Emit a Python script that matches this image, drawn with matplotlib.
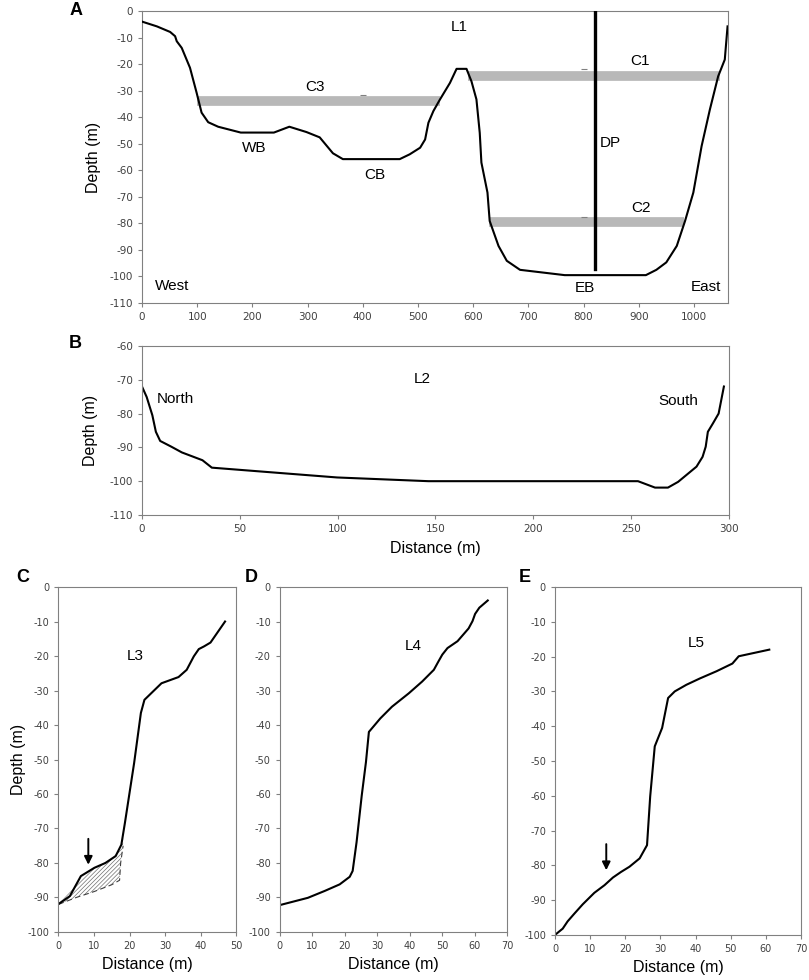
import matplotlib.pyplot as plt
import numpy as np


plt.rcParams.update({
    "font.family": ["Liberation Sans", "DejaVu Sans"],
    "font.size": 11,
    "axes.unicode_minus": False,
    "axes.edgecolor": "#808080",
    "axes.linewidth": 0.8,
    "axes.labelsize": 11.5,
    "xtick.color": "#808080",
    "ytick.color": "#808080",
    "xtick.labelcolor": "#404040",
    "ytick.labelcolor": "#404040",
    "xtick.major.size": 3,
    "ytick.major.size": 3,
    "hatch.linewidth": 0.5,
})

NARROW = ["Liberation Sans Narrow", "DejaVu Sans"]
WIDE = ["DejaVu Sans"]

# ---- L1 (panel A) ----
l1_x = [0, 27, 51, 60, 63, 72, 87, 99, 108, 120, 138, 179, 239, 267, 298, 322,
        346, 364, 467, 485, 504, 513, 519, 528, 540, 558, 570, 588, 597, 606,
        612, 615, 626, 630, 646, 661, 685, 766, 913, 932, 950, 969, 984, 999,
        1014, 1029, 1044, 1056, 1059, 1061]
l1_y = [-4, -5.8, -7.9, -9.5, -11.4, -13.9, -21.4, -30.8, -38.3, -41.9, -43.6,
        -45.8, -45.8, -43.6, -45.6, -47.6, -53.6, -55.8, -55.8, -54, -51.5,
        -48.4, -42.1, -37.7, -33.3, -27.1, -21.8, -21.8, -26.5, -33.3, -45.9,
        -57.1, -68.4, -79.1, -88.5, -94.1, -97.5, -99.5, -99.5, -97.5, -94.7,
        -88.5, -79.1, -68.4, -50.9, -37.1, -24.6, -18.3, -10.8, -5.8]

# current bands: name, x start, x end, depth, cap position
band_names = ["C1", "C2", "C3"]
band_x0 = [591, 629, 99]
band_x1 = [1047, 983, 540]
band_depth = [-24.5, -79.5, -34]
band_cap_x = [801, 801, 400]
band_cap_y = [-22, -77.7, -31.8]

dp_x = 820
dp_bottom = -97

# ---- L2 (panel B) ----
l2_x = [0, 2.4, 5.3, 7.1, 9.3, 15, 20.4, 30.9, 35.7, 73.2, 99.7, 146.4, 253.5,
        262.2, 268.8, 274, 283.4, 286.5, 288.1, 289.2, 291.8, 294.7, 297.4]
l2_y = [-72, -75.1, -80.5, -85.4, -88.1, -89.8, -91.5, -93.8, -96, -97.7,
        -98.9, -100, -100, -101.9, -101.9, -100.2, -95.7, -92.8, -89.8, -85.4,
        -82.9, -80, -72]

# ---- L3 (panel C) ----
l3_x = [0, 3.2, 6.3, 10.1, 13.2, 16.1, 17.7, 18.7, 21.3, 23.2, 24.2, 25.2, 29,
        33.8, 36.1, 38.1, 39.5, 41, 42.8, 46.9]
l3_y = [-91.9, -89.6, -83.8, -81.4, -80, -78, -74.7, -68.4, -51, -36.5, -32.7,
        -31.7, -27.9, -26.1, -24, -20.1, -18, -17.2, -16.1, -10]
slide_x = [0, 5, 10, 15, 17.2, 17.5, 18.2]
slide_y = [-92, -90, -88.3, -86.3, -85, -80, -75]

# ---- L4 (panel D) ----
l4_x = [0, 8.6, 13.8, 18.4, 21.5, 22.4, 23.6, 25.2, 26.5, 27.4, 28.3, 30.9,
        34.5, 39.7, 43.8, 47.4, 48.8, 50, 51.6, 54.7, 58.1, 59.3, 60.1, 61.4, 64]
l4_y = [-92.2, -90.1, -88.1, -86.2, -84, -82.3, -74, -60.4, -50.7, -42, -41,
        -38.1, -34.7, -30.8, -27.4, -24, -21.6, -19.6, -17.7, -15.7, -12, -9.9,
        -7.8, -6, -3.9]

# ---- L5 (panel E) ----
l5_x = [0, 2.2, 3.6, 5.5, 7.9, 11.2, 14.1, 16.5, 18.8, 21.2, 24.1, 26.2, 27.1,
        28.4, 30.5, 32.2, 34.1, 37.4, 41.2, 46, 50.5, 52.3, 61]
l5_y = [-100, -98.2, -96.1, -93.9, -91.2, -87.9, -85.7, -83.5, -81.9, -80.4,
        -78, -74.2, -60.2, -45.8, -40.5, -31.9, -30, -28.1, -26.3, -24.2, -22,
        -19.9, -18]


def style_axes(ax, family, size):
    for s in ax.spines.values():
        s.set_color("#808080")
    for lab in ax.get_xticklabels() + ax.get_yticklabels():
        lab.set_family(family)
        lab.set_fontsize(size)


def arrow(ax, x, y0, y1):
    ax.annotate("", xy=(x, y1), xytext=(x, y0),
                arrowprops=dict(arrowstyle="-|>", color="black", lw=1.4,
                                mutation_scale=12, shrinkA=0, shrinkB=0))


fig = plt.figure(figsize=(8.09, 9.8), dpi=100)

##############################################################
# PANEL A
##############################################################

axA = fig.add_axes([0.1755, 0.6908, 0.7245, 0.298])
axA.plot(l1_x, l1_y, color="black", lw=1.5, zorder=3)

for name, x0, x1, d, cx, cy in zip(band_names, band_x0, band_x1, band_depth,
                                   band_cap_x, band_cap_y):
    axA.plot([x0, x1], [d, d], color="#b8b8b8", lw=7, solid_capstyle="butt",
             zorder=2)
    axA.plot([cx], [cy], marker="_", color="#808080", ms=4, mew=0.8)

axA.plot([dp_x, dp_x], [0, dp_bottom], color="black", lw=2.4, zorder=4)

axA.text(574, -6.2, "L1", ha="center", va="center")
axA.text(903, -19, "C1", ha="center", va="center")
axA.text(313, -28.6, "C3", ha="center", va="center")
axA.text(905, -74.3, "C2", ha="center", va="center")
axA.text(829, -49.6, "DP", ha="left", va="center")
axA.text(203, -51.5, "WB", ha="center", va="center")
axA.text(421, -61.8, "CB", ha="center", va="center")
axA.text(802, -104.4, "EB", ha="center", va="center")
axA.text(54, -103.5, "West", ha="center", va="center")
axA.text(1022, -103.8, "East", ha="center", va="center")

axA.set_xlim(0, 1062)
axA.set_ylim(-110, 0)
axA.set_xticks(np.arange(0, 1001, 100))
axA.set_yticks(np.arange(-110, 1, 10))
axA.set_ylabel("Depth (m)", labelpad=6)
style_axes(axA, NARROW, 7.5)
fig.text(0.094, 0.989, "A", fontsize=13, fontweight="bold", ha="center",
         va="center")

##############################################################
# PANEL B
##############################################################

axB = fig.add_axes([0.1755, 0.4745, 0.7256, 0.1725])
axB.plot(l2_x, l2_y, color="black", lw=1.5)
axB.text(143, -69.8, "L2", ha="center", va="center")
axB.text(7.7, -75.7, "North", ha="left", va="center")
axB.text(274, -76.2, "South", ha="center", va="center")
axB.set_xlim(0, 300)
axB.set_ylim(-110, -60)
axB.set_xticks(np.arange(0, 301, 50))
axB.set_yticks(np.arange(-110, -59, 10))
axB.set_ylabel("Depth (m)", labelpad=8)
axB.set_xlabel("Distance (m)", labelpad=5)
style_axes(axB, NARROW, 7.5)
fig.text(0.093, 0.650, "B", fontsize=13, fontweight="bold", ha="center",
         va="center")

##############################################################
# PANEL C
##############################################################

axC = fig.add_axes([0.0723, 0.049, 0.2195, 0.352])
sx = np.array(slide_x)
top = np.interp(sx, l3_x, l3_y)
axC.fill_between(sx, slide_y, top, facecolor="none", edgecolor="#707070",
                 hatch="////////", lw=0)
axC.plot(slide_x, slide_y, color="#404040", lw=0.8, ls=(0, (5, 3)))
axC.plot(l3_x, l3_y, color="black", lw=1.5)
arrow(axC, 8.4, -73, -80.5)
axC.text(21.6, -20.1, "L3", ha="center", va="center")
axC.set_xlim(0, 50)
axC.set_ylim(-100, 0)
axC.set_xticks(np.arange(0, 51, 10))
axC.set_yticks(np.arange(-100, 1, 10))
axC.set_ylabel("Depth (m)", labelpad=1)
axC.set_xlabel("Distance (m)")
style_axes(axC, WIDE, 7)
fig.text(0.028, 0.411, "C", fontsize=13, fontweight="bold", ha="center",
         va="center")

##############################################################
# PANEL D
##############################################################

axD = fig.add_axes([0.346, 0.049, 0.281, 0.352])
axD.plot(l4_x, l4_y, color="black", lw=1.5)
axD.text(41.2, -17.2, "L4", ha="center", va="center")
axD.set_xlim(0, 70)
axD.set_ylim(-100, 0)
axD.set_xticks(np.arange(0, 71, 10))
axD.set_yticks(np.arange(-100, 1, 10))
axD.set_xlabel("Distance (m)")
style_axes(axD, WIDE, 7)
fig.text(0.310, 0.411, "D", fontsize=13, fontweight="bold", ha="center",
         va="center")

##############################################################
# PANEL E
##############################################################

axE = fig.add_axes([0.686, 0.046, 0.304, 0.355])
axE.plot(l5_x, l5_y, color="black", lw=1.5)
arrow(axE, 14.6, -73.9, -81.4)
axE.text(40.1, -16, "L5", ha="center", va="center")
axE.set_xlim(0, 70)
axE.set_ylim(-100, 0)
axE.set_xticks(np.arange(0, 71, 10))
axE.set_yticks(np.arange(-100, 1, 10))
axE.set_xlabel("Distance (m)")
style_axes(axE, WIDE, 7)
fig.text(0.649, 0.411, "E", fontsize=13, fontweight="bold", ha="center",
         va="center")

fig.savefig("out.png", dpi=100)
plt.close(fig)
